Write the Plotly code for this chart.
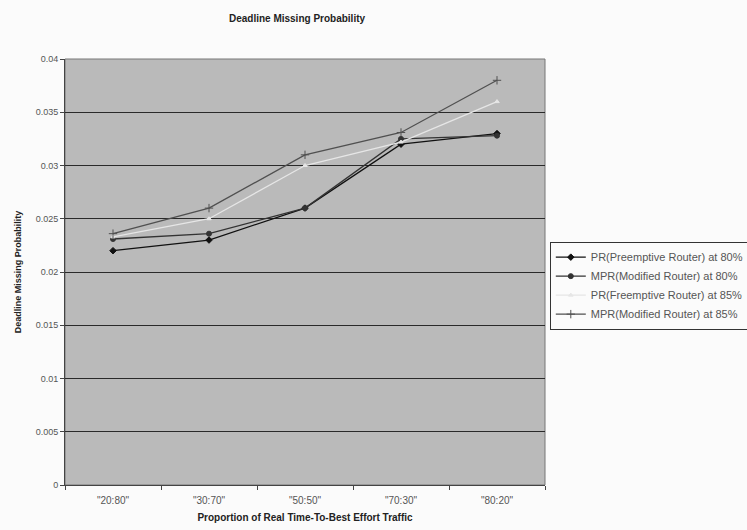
import plotly.graph_objects as go

categories = ['"20:80"', '"30:70"', '"50:50"', '"70:30"', '"80:20"']
pr_80 = [0.0220, 0.0230, 0.0260, 0.0320, 0.0330]
mpr_80 = [0.0231, 0.0236, 0.0260, 0.0325, 0.0328]
pr_85 = [0.0233, 0.0250, 0.0300, 0.0322, 0.0360]
mpr_85 = [0.0236, 0.0260, 0.0310, 0.0331, 0.0380]
y_ticks = [0, 0.005, 0.01, 0.015, 0.02, 0.025, 0.03, 0.035, 0.04]
y_ticktext = ["0", "0.005", "0.01", "0.015", "0.02", "0.025", "0.03", "0.035", "0.04"]

series = [
    ("PR(Preemptive Router) at 80%", pr_80, "#111111", "diamond", 5),
    ("MPR(Modified Router) at 80%", mpr_80, "#333333", "circle", 5),
    ("PR(Freemptive Router) at 85%", pr_85, "#e6e6e6", "triangle-up", 4),
    ("MPR(Modified Router) at 85%", mpr_85, "#505050", "cross-thin", 6),
]

fig = go.Figure()
for name, vals, color, sym, size in series:
    fig.add_trace(go.Scatter(
        x=categories, y=vals, name=name, mode="lines+markers",
        line=dict(color=color, width=1.3),
        marker=dict(symbol=sym, size=size, color=color,
                    line=dict(color=color, width=1)),
    ))

font_family = "Liberation Sans, Arial, sans-serif"
fig.update_layout(
    width=747, height=530,
    margin=dict(l=65, r=202, t=59, b=45, autoexpand=False),
    paper_bgcolor="#fbfbfb",
    plot_bgcolor="#bababa",
    font=dict(family=font_family, size=10, color="#444444"),
    title=dict(text="<b>Deadline Missing Probability</b>", x=297/747, xanchor="center",
               y=1 - 18/530, yanchor="middle",
               font=dict(size=10, color="#222222", family=font_family)),
    showlegend=True,
    legend=dict(x=1.01, xanchor="left", y=0.468, yanchor="middle",
                bgcolor="#fbfbfb", bordercolor="#333333", borderwidth=1,
                font=dict(size=11, color="#555555"), itemwidth=30,
                tracegroupgap=0),
)
fig.update_xaxes(
    type="category", showgrid=False, tickson="boundaries", ticks="outside",
    ticklen=4, tickcolor="#444444", showline=True, linecolor="#444444",
    linewidth=1, mirror=False, range=[-0.5, 4.5], ticklabelstandoff=6,
    tickfont=dict(size=10, color="#555555"),
    title=dict(text="<b>Proportion of Real Time-To-Best Effort Traffic</b>",
               font=dict(size=10, color="#222222"), standoff=8),
)
fig.update_yaxes(
    range=[0, 0.04], tickvals=y_ticks, ticktext=y_ticktext,
    showgrid=True, gridcolor="#2a2a2a", gridwidth=1.4, zeroline=False,
    ticks="outside", ticklen=4, tickcolor="#444444",
    showline=True, linecolor="#444444", linewidth=1,
    tickfont=dict(size=9, color="#555555"),
    title=dict(text="<b>Deadline Missing Probability</b>",
               font=dict(size=9, color="#222222"), standoff=12),
)
fig.add_shape(type="rect", xref="paper", yref="paper", x0=0, y0=0, x1=1, y1=1,
              line=dict(color="#777777", width=1), layer="below")

fig.write_html("out.html")
